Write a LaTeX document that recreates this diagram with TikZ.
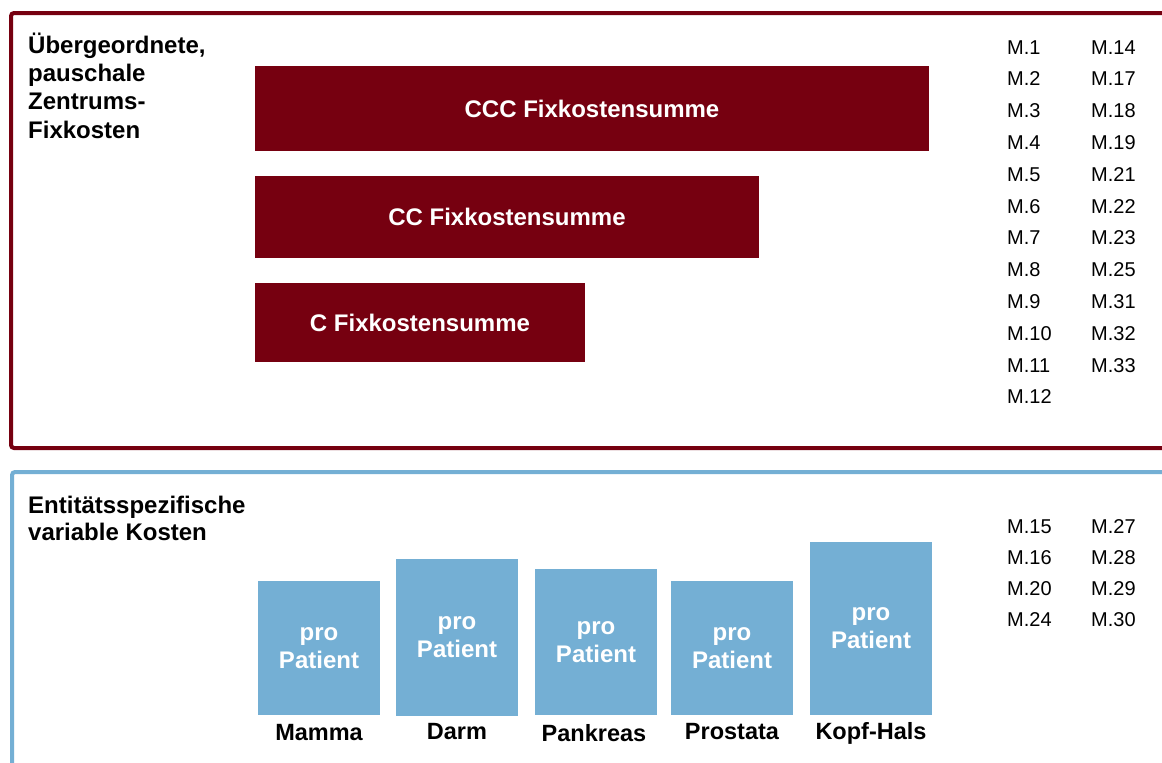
\documentclass[tikz,border=0pt]{standalone}
\usepackage{fontspec}
\setmainfont{Liberation Sans}
\definecolor{fixred}{RGB}{118,0,16}
\definecolor{varblue}{RGB}{116,175,212}
\tikzset{
  frame/.style={line width=4pt, rounded corners=3pt},
  heading/.style={font=\fontsize{24}{28.3}\selectfont\bfseries, align=left, inner sep=0pt, anchor=base west},
  fixbar/.style={fill=fixred, draw=none, inner sep=0pt, text=white,
    font=\fontsize{24}{28}\selectfont\bfseries},
  patbox/.style={fill=varblue, draw=none, inner sep=0pt, text=white, align=center,
    minimum width=122pt, font=\fontsize{24}{28}\selectfont\bfseries},
  entity/.style={font=\fontsize{23.5}{28}\selectfont\bfseries, inner sep=0pt, anchor=base},
  mref/.style={font=\fontsize{20}{24}\selectfont, inner sep=0pt, anchor=base west}
}
\begin{document}
\begin{tikzpicture}[x=1pt,y=-1pt]
\useasboundingbox (0,0) rectangle (1162,763);
\clip (0,0) rectangle (1162,763);
\fill[white] (0,0) rectangle (1162,763);

% upper panel: fixed costs
\draw[frame, draw=fixred] (11,13) rectangle (1200,448);
\node[heading] (fixhead) at (28,138) {Übergeordnete,\\pauschale\\Zentrums-\\Fixkosten};
\node[fixbar, minimum width=674pt, minimum height=85pt] (ccc) at (592,108.5) {CCC Fixkostensumme};
\node[fixbar, minimum width=504pt, minimum height=82pt] (cc) at (507,217) {CC Fixkostensumme};
\node[fixbar, minimum width=330pt, minimum height=79pt] (c) at (420,322.5) {C Fixkostensumme};

\foreach \lab [count=\i from 0] in {1,2,3,4,5,6,7,8,9,10,11,12}
  \node[mref] (mfa\i) at (1007,54+31.8*\i) {M.\lab};
\foreach \lab [count=\i from 0] in {14,17,18,19,21,22,23,25,31,32,33}
  \node[mref] (mfb\i) at (1091,54+31.8*\i) {M.\lab};

% lower panel: entity-specific variable costs
\draw[frame, draw=varblue] (12,472) rectangle (1200,820);
\node[heading, font=\fontsize{24}{27}\selectfont\bfseries] (varhead) at (28,540) {Entitätsspezifische\\variable Kosten};

\node[patbox, minimum height=134pt] (mamma) at (319,648) {pro\\Patient};
\node[patbox, minimum height=157pt] (darm) at (457,637.5) {pro\\Patient};
\node[patbox, minimum height=146pt] (pankreas) at (596,642) {pro\\Patient};
\node[patbox, minimum height=134pt] (prostata) at (732,648) {pro\\Patient};
\node[patbox, minimum height=173pt] (kopfhals) at (871,628.5) {pro\\Patient};

\node[entity] (lmamma) at (319,740) {Mamma};
\node[entity] (ldarm) at (457,739) {Darm};
\node[entity] (lpankreas) at (594,741) {Pankreas};
\node[entity] (lprostata) at (732,739) {Prostata};
\node[entity] (lkopfhals) at (871,739) {Kopf-Hals};

\foreach \lab [count=\i from 0] in {15,16,20,24}
  \node[mref] (mva\i) at (1007,533+31*\i) {M.\lab};
\foreach \lab [count=\i from 0] in {27,28,29,30}
  \node[mref] (mvb\i) at (1091,533+31*\i) {M.\lab};
\end{tikzpicture}
\end{document}
